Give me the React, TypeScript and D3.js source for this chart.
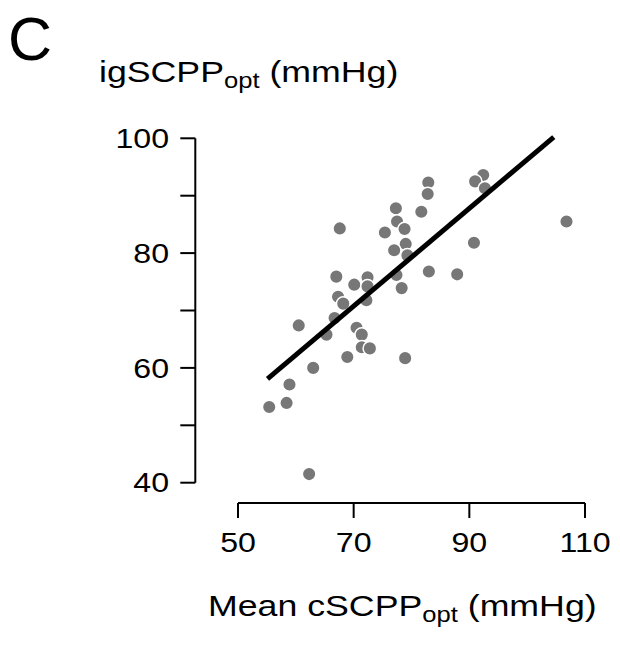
import React from "react";
import * as d3 from "d3";

const cSCPP = [
  82.9, 82.8, 77.3, 81.7, 67.6, 77.5, 78.8, 75.4, 79.0, 77.0, 79.3, 83.0, 77.4, 78.3,
  67.0, 72.4, 70.1, 72.4, 67.3, 68.2, 72.2, 66.7, 60.5, 65.3, 70.5, 71.4, 71.4, 72.8,
  68.9, 78.9, 92.4, 91.0, 92.7, 106.8, 90.8, 87.9, 58.9, 55.4, 58.4, 63.0, 62.3,
];
const igSCPP = [
  92.3, 90.3, 87.8, 87.2, 84.3, 85.5, 84.2, 83.6, 81.6, 80.5, 79.6, 76.8, 76.2, 73.9,
  75.9, 75.8, 74.5, 74.2, 72.4, 71.2, 71.8, 68.7, 67.4, 65.8, 67.0, 65.8, 63.6, 63.4,
  61.9, 61.7, 93.6, 92.5, 91.3, 85.5, 81.8, 76.3, 57.1, 53.2, 53.9, 60.0, 41.5,
];
const fitX = [55.1, 104.6];
const fitY = [58.1, 100.2];
const xTicks = [50, 70, 90, 110];
const yTicks = [40, 50, 60, 70, 80, 90, 100];
const yTickLabels = [40, 60, 80, 100];

const FONT = "'Liberation Sans', Arial, sans-serif";
const SX = 1.19;

function Label({ x, y, anchor = "start", size, children }: any) {
  return (
    <g transform={`translate(${x},${y}) scale(${SX},1)`}>
      <text x={0} y={0} textAnchor={anchor} fontSize={size} fill="#000">
        {children}
      </text>
    </g>
  );
}

export default function App() {
  const x = d3.scaleLinear().domain([50, 110]).range([238, 585]);
  const y = d3.scaleLinear().domain([40, 100]).range([482.7, 138.3]);
  const axisX = 195.3;
  const axisY = 503;
  const line = d3
    .line<number>()
    .x((d, i) => x(fitX[i]))
    .y((d) => y(d));

  return (
    <svg
      width={620}
      height={648}
      style={{ position: "absolute", left: 0, top: 0, background: "#fff" }}
      fontFamily={FONT}
    >
      <rect width={620} height={648} fill="#fff" />
      <text x={8} y={60} fontSize={61} fill="#000">C</text>
      <Label x={99} y={82} size={30}>
        igSCPP
        <tspan fontSize={21.5} dy={6}>opt</tspan>
        <tspan dy={-6}> (mmHg)</tspan>
      </Label>

      {/* Y axis */}
      <line x1={axisX} x2={axisX} y1={y(40)} y2={y(100)} stroke="#000" strokeWidth={2} />
      {yTicks.map((t) => (
        <line key={t} x1={axisX - 15} x2={axisX} y1={y(t)} y2={y(t)} stroke="#000" strokeWidth={2} />
      ))}
      {yTickLabels.map((t) => (
        <Label key={t} x={169} y={y(t) + 9.7} anchor="end" size={27}>
          {t}
        </Label>
      ))}

      {/* X axis */}
      <line x1={x(50)} x2={x(110)} y1={axisY} y2={axisY} stroke="#000" strokeWidth={2} />
      {xTicks.map((t) => (
        <g key={t}>
          <line x1={x(t)} x2={x(t)} y1={axisY} y2={axisY + 15} stroke="#000" strokeWidth={2} />
          <Label x={x(t)} y={552} anchor="middle" size={27}>
            {t}
          </Label>
        </g>
      ))}
      <Label x={208} y={616} size={30}>
        Mean cSCPP
        <tspan fontSize={21.5} dy={6}>opt</tspan>
        <tspan dy={-6}> (mmHg)</tspan>
      </Label>

      {/* points */}
      {cSCPP.map((v, i) => (
        <circle
          key={i}
          cx={x(v)}
          cy={y(igSCPP[i])}
          r={6.8}
          fill="#777777"
          stroke="#fff"
          strokeWidth={1.5}
        />
      ))}

      {/* fit line */}
      <path d={line(fitY) || ""} stroke="#000" strokeWidth={5} fill="none" />
    </svg>
  );
}
